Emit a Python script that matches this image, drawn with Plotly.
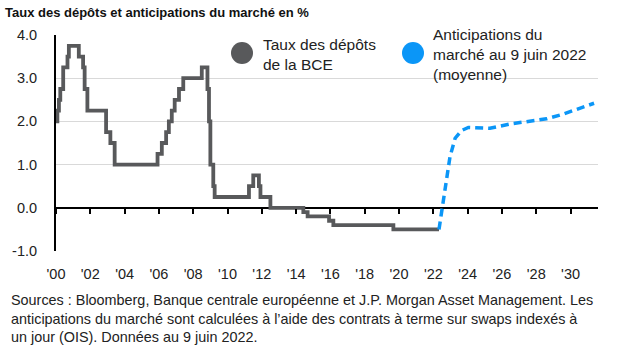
import plotly.graph_objects as go

# ECB deposit rate (decimal year of change, rate %)
ecb_x = [2000.0, 2000.08, 2000.17, 2000.25, 2000.42, 2000.67, 2000.75, 2001.33, 2001.58,
         2001.67, 2001.83, 2002.92, 2003.17, 2003.42, 2005.92, 2006.17, 2006.42, 2006.58,
         2006.75, 2006.92, 2007.17, 2007.42, 2008.5, 2008.83, 2008.92, 2009.0, 2009.17,
         2009.25, 2011.25, 2011.5, 2011.83, 2011.92, 2012.5, 2014.42, 2014.67, 2015.92,
         2016.17, 2019.67, 2022.33]
ecb_y = [2.00, 2.25, 2.50, 2.75, 3.25, 3.50, 3.75, 3.50, 3.25,
         2.75, 2.25, 1.75, 1.50, 1.00, 1.25, 1.50, 1.75, 2.00,
         2.25, 2.50, 2.75, 3.00, 3.25, 2.75, 2.00, 1.00, 0.50,
         0.25, 0.50, 0.75, 0.50, 0.25, 0.00, -0.10, -0.20, -0.30,
         -0.40, -0.50, -0.50]

# Market expectations (OIS forwards) as of 9 June 2022
exp_x = [2022.33, 2022.49, 2022.78, 2022.97, 2023.27, 2023.65, 2024.04, 2025.3, 2026.47,
         2027.83, 2028.6, 2029.58, 2030.55, 2031.37]
exp_y = [-0.50, -0.05, 0.72, 1.18, 1.61, 1.79, 1.86, 1.84, 1.94,
         2.02, 2.06, 2.17, 2.30, 2.42]

tick_years = list(range(2000, 2031, 2))
tick_text = ["'%02d" % (y - 2000) for y in tick_years]
y_ticks = [-1, 0, 1, 2, 3, 4]
y_text = ["-1.0", "0.0", "1.0", "2.0", "3.0", "4.0"]

W, H = 617, 345
L, R, T, B = 56, 19, 35, 94
PW, PH = W - L - R, H - T - B

def px(x):
    return (x - L) / PW

def py(y):
    return (H - B - y) / PH

GREY = "#58595b"
BLUE = "#0b96f7"
FONT = "Liberation Sans"

fig = go.Figure()
fig.add_trace(go.Scatter(x=ecb_x, y=ecb_y, mode="lines", line=dict(color=GREY, width=3.8, shape="hv"),
                         showlegend=False, hoverinfo="skip"))
fig.add_trace(go.Scatter(x=exp_x, y=exp_y, mode="lines", line=dict(color=BLUE, width=3.5, dash="8px,5px"),
                         showlegend=False, hoverinfo="skip"))
# invisible trace to hold the secondary (tick) axis
fig.add_trace(go.Scatter(x=[2000], y=[0], xaxis="x2", mode="markers", marker=dict(opacity=0),
                         showlegend=False, hoverinfo="skip"))

fig.update_layout(
    width=W, height=H,
    margin=dict(l=L, r=R, t=T, b=B),
    paper_bgcolor="white", plot_bgcolor="white",
    font=dict(family=FONT, color="#222222", size=14),
    xaxis=dict(range=[2000, 2031.6], tickmode="array", tickvals=tick_years, ticktext=tick_text,
               showgrid=False, zeroline=False, showline=False, ticks="",
               tickfont=dict(size=14.5, color="#222222"), ticklabelstandoff=12),
    xaxis2=dict(range=[2000, 2031.6], overlaying="x", anchor="free", position=0.2, side="bottom",
                tickmode="array", tickvals=tick_years, showticklabels=False, ticks="outside",
                ticklen=5, tickwidth=1.5, tickcolor="black", showgrid=False, zeroline=False,
                showline=False),
    yaxis=dict(range=[-1, 4], tickmode="array", tickvals=y_ticks, ticktext=y_text,
               showgrid=True, gridcolor="#d9d9d9", gridwidth=1,
               zeroline=True, zerolinecolor="black", zerolinewidth=2,
               showline=True, linecolor="black", linewidth=2, ticks="",
               tickfont=dict(size=14.5, color="#222222"), ticklabelstandoff=14),
)

fig.add_annotation(text="<b>Taux des dépôts et anticipations du marché en %</b>", xref="paper", yref="paper",
                   x=px(3), y=py(12), xanchor="left", yanchor="middle", showarrow=False,
                   font=dict(size=13, color="#111111"))

fig.add_annotation(text="Sources : Bloomberg, Banque centrale européenne et J.P. Morgan Asset Management. Les<br>"
                        "anticipations du marché sont calculées à l’aide des contrats à terme sur swaps indexés à<br>"
                        "un jour (OIS). Données au 9 juin 2022.",
                   xref="paper", yref="paper", x=px(9), y=py(290), xanchor="left", yanchor="top",
                   align="left", showarrow=False, font=dict(size=14.4, color="#222222"))

# legend
for cx, col in [(242, GREY), (413, BLUE)]:
    fig.add_shape(type="circle", xref="paper", yref="paper", xsizemode="pixel", ysizemode="pixel",
                  xanchor=px(cx), yanchor=py(53), x0=-11, x1=11, y0=-11, y1=11,
                  fillcolor=col, line=dict(width=0))
fig.add_annotation(text="Taux des dépôts<br>de la BCE", xref="paper", yref="paper",
                   x=px(261), y=py(55), xanchor="left", yanchor="middle", align="left",
                   showarrow=False, font=dict(size=15.5, color="#222222"))
fig.add_annotation(text="Anticipations du<br>marché au 9 juin 2022<br>(moyenne)", xref="paper", yref="paper",
                   x=px(431), y=py(55), xanchor="left", yanchor="middle", align="left",
                   showarrow=False, font=dict(size=15.5, color="#222222"))

fig.write_html("out.html")
